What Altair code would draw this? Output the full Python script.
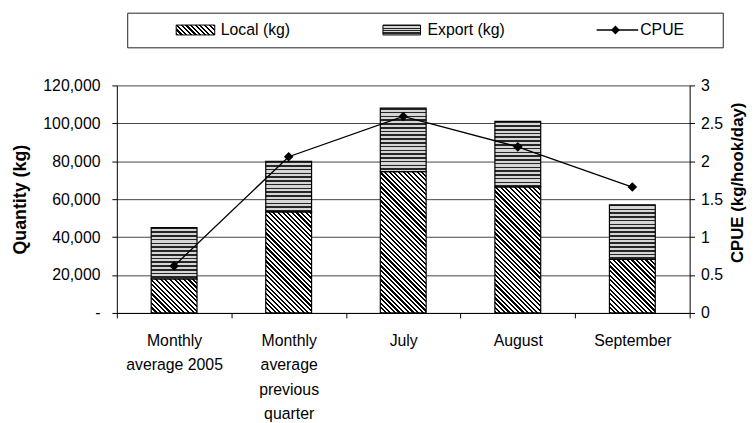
import math
import altair as alt
import pandas as pd

# ---------------- data ----------------
categories = ["Monthly|average 2005", "Monthly|average|previous|quarter", "July", "August", "September"]
local_kg = [18000, 53300, 74500, 66500, 28200]
export_kg = [27000, 26700, 33500, 34500, 28800]
cpue = [0.62, 2.06, 2.59, 2.19, 1.66]
y_ticks = [0, 20000, 40000, 60000, 80000, 100000, 120000]
cpue_ticks = [0, 0.5, 1, 1.5, 2, 2.5, 3]
legend_labels = ["Local (kg)", "Export (kg)", "CPUE"]

# ---------------- layout ----------------
W, H = 579, 230
PAD = {"left": 110, "top": 76, "right": 59, "bottom": 109}
BAND = 0.4
FONT = "Liberation Sans"
YMAX = 120000
bar_w = BAND * W / len(categories)


def _stops(n, frac, dark, light):
    stops = []
    k = 0
    while k < n:
        o0 = round(k / n, 5)
        o1 = round(min((k + frac) / n, 1), 5)
        o2 = round(min((k + 1) / n, 1), 5)
        stops += [{"offset": o0, "color": dark}, {"offset": o1, "color": dark},
                  {"offset": o1, "color": light}, {"offset": o2, "color": light}]
        k += 1
    return stops


def hstripes(h, period=3.8, frac=0.42, dark="#262626", light="#d6d6d6"):
    n = max(h / period, 1)
    return {"gradient": "linear", "x1": 0, "y1": 0, "x2": 0, "y2": 1,
            "stops": _stops(n, frac, dark, light)}


def dstripes(w, h, period=4.7, frac=0.47, dark="#000000", light="#ffffff"):
    a = (w + h) / (w * w + h * h)
    n = max((w + h) / period, 1)
    return {"gradient": "linear", "x1": 0, "y1": 1, "x2": round(a * w, 5), "y2": round(1 - a * h, 5),
            "stops": _stops(n, frac, dark, light)}


xscale = alt.Scale(domain=categories, paddingInner=0, paddingOuter=0)
yscale = alt.Scale(domain=[0, YMAX], nice=False)

x_axis = alt.Axis(
    title=None, labelAngle=0, tickBand="extent", tickSize=5, tickColor="black",
    domainColor="black", labelFont=FONT, labelFontSize=16, labelColor="black",
    labelPadding=15, labelLineHeight=24.5, labelExpr="split(datum.label, '|')",
    labelBaseline="top", grid=False,
)
y_axis = alt.Axis(
    title="Quantity (kg)", values=y_ticks, tickSize=5, tickColor="black",
    domainColor="black", grid=True, gridColor="#444444", gridWidth=1,
    labelFont=FONT, labelFontSize=16, labelColor="black", labelPadding=12,
    labelExpr="datum.value == 0 ? '-\u00a0\u00a0\u00a0\u00a0' : format(datum.value, ',')",
    titleFont=FONT, titleFontSize=18, titleFontWeight="bold", titleColor="black",
    titleAngle=270, titleX=-97, titleY=H / 2, titleAlign="center", titleBaseline="middle",
)

bar_layers = []
for i, cat in enumerate(categories):
    lo, ex = local_kg[i], export_kg[i]
    segs = [
        (0, lo, dstripes(bar_w, lo / YMAX * H)),
        (lo, lo + ex, hstripes(ex / YMAX * H)),
    ]
    for j, (y0, y1, fill) in enumerate(segs):
        d = pd.DataFrame({"cat": [cat], "y0": [y0], "y1": [y1]})
        bar_layers.append(
            alt.Chart(d).mark_bar(fill=fill, stroke="black", strokeWidth=1.2,
                                  width=alt.RelativeBandSize(BAND)).encode(
                x=alt.X("cat:N", scale=xscale, sort=None, axis=x_axis),
                y=alt.Y("y0:Q", scale=yscale, axis=y_axis),
                y2="y1:Q",
            )
        )
bars = alt.layer(*bar_layers)

cdf = pd.DataFrame({"cat": categories, "cpue": cpue})
c_scale = alt.Scale(domain=[0, 3], nice=False)
c_axis = alt.Axis(
    orient="right", title="CPUE (kg/hook/day)", values=cpue_ticks, tickSize=5,
    tickColor="black", domainColor="black", grid=False,
    labelFont=FONT, labelFontSize=16, labelColor="black", labelPadding=6,
    labelExpr="toString(datum.value)",
    titleFont=FONT, titleFontSize=17, titleFontWeight="bold", titleColor="black",
    titleAngle=270, titleX=53, titleY=98, titleAlign="center", titleBaseline="alphabetic",
)
cline = alt.Chart(cdf).mark_line(color="black", strokeWidth=1.3).encode(
    x=alt.X("cat:N", scale=xscale, sort=None, axis=x_axis),
    y=alt.Y("cpue:Q", scale=c_scale, axis=c_axis),
)
cpts = alt.Chart(cdf).mark_point(shape="diamond", filled=True, color="black", size=95, opacity=1).encode(
    x=alt.X("cat:N", scale=xscale, sort=None, axis=x_axis),
    y=alt.Y("cpue:Q", scale=c_scale, axis=c_axis),
)
cpue_layer = alt.layer(cline, cpts)

# ---------------- legend ----------------
one = pd.DataFrame({"k": [0]})
lg_box = alt.Chart(one).mark_rect(fill="white", stroke="#222222", strokeWidth=1).encode(
    x=alt.value(11), x2=alt.value(613), y=alt.value(-73), y2=alt.value(-38))
lg_local = alt.Chart(one).mark_rect(fill=dstripes(39, 10), stroke="black", strokeWidth=1).encode(
    x=alt.value(60), x2=alt.value(99), y=alt.value(-61), y2=alt.value(-51))
lg_export = alt.Chart(one).mark_rect(fill=hstripes(10, period=2.5), stroke="black", strokeWidth=1).encode(
    x=alt.value(269), x2=alt.value(307), y=alt.value(-61), y2=alt.value(-51))
lg_line = alt.Chart(one).mark_rule(color="black", strokeWidth=1.5).encode(
    x=alt.value(485), x2=alt.value(527), y=alt.value(-56))
lg_pt = alt.Chart(one).mark_point(shape="diamond", filled=True, color="black", size=80, opacity=1).encode(
    x=alt.value(504), y=alt.value(-56))
lg_df = pd.DataFrame({"label": legend_labels, "xp": [105, 314, 529]})
lg_text = alt.Chart(lg_df).mark_text(align="left", baseline="alphabetic", font=FONT, fontSize=16,
                                     color="black").encode(
    x=alt.X("xp:Q", scale=None), y=alt.value(-51), text="label:N")

chart = alt.layer(
    bars, cpue_layer, lg_box, lg_local, lg_export, lg_line, lg_pt, lg_text
).resolve_scale(y="independent").properties(
    width=W, height=H, padding=PAD, autosize=alt.AutoSizeParams(type="none"),
    background="white",
).configure_view(stroke="transparent")

chart.save("out.html", embed_options={"renderer": "svg", "actions": False})
